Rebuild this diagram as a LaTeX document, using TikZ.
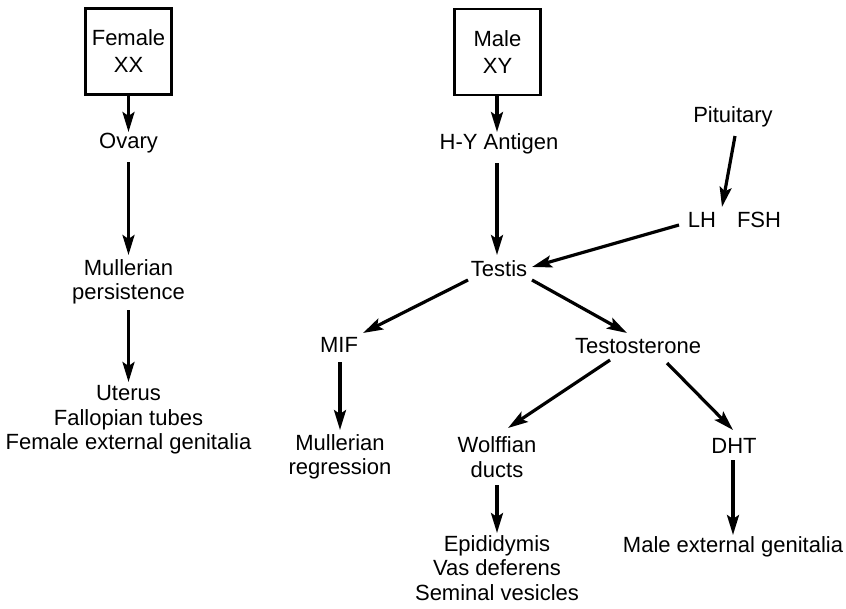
\documentclass[tikz,border=0pt]{standalone}
\usepackage{fontspec}
\setmainfont{Liberation Sans}
\usetikzlibrary{arrows.meta}
\begin{document}
\begin{tikzpicture}[x=1pt,y=-1pt,
  lbl/.style={inner sep=0pt, outer sep=0pt, align=center, font=\fontsize{22}{24.5}\selectfont},
  sexbox/.style={lbl, draw, line width=2.2pt, minimum width=86pt, minimum height=86pt, font=\fontsize{22}{27}\selectfont},
  arr/.style={line width=3.2pt, -{Stealth[length=20pt,width=12pt,inset=4pt]}}]
\useasboundingbox (0,0) rectangle (846,608);
% female branch
\node[sexbox] (female) at (128.5,51.5) {Female\\XX};
\node[lbl] (ovary) at (128.5,143) {Ovary};
\node[lbl] (mpers) at (128.5,282) {Mullerian\\persistence};
\node[lbl] (uterus) at (128.5,420) {Uterus\\Fallopian tubes\\Female external genitalia};
% male branch
\node[sexbox] (male) at (497.5,52) {Male\\XY};
\node[lbl] (hy) at (499,144) {H-Y Antigen};
\node[lbl] (testis) at (499,269) {Testis};
\node[lbl] (pit) at (733,117) {Pituitary};
\node[lbl] (lh) at (702,220) {LH};
\node[lbl] (fsh) at (759,220) {FSH};
\coordinate (gap) at (722,207);
\node[lbl] (mif) at (339,345) {MIF};
\node[lbl] (testo) at (638,346) {Testosterone};
\node[lbl] (mreg) at (340,457) {Mullerian\\regression};
\node[lbl] (wolff) at (497,457) {Wolffian\\ducts};
\node[lbl] (dht) at (734,446) {DHT};
\node[lbl] (epi) at (497,568) {Epididymis\\Vas deferens\\Seminal vesicles};
\node[lbl] (mext) at (733,547) {Male external genitalia};
% connectors
\draw[arr] (female.south) -- ([shift={(0,-11)}]ovary.center);
\draw[arr] ([shift={(0,19)}]ovary.center) -- ([shift={(0,-27)}]mpers.center);
\draw[arr] ([shift={(0,28)}]mpers.center) -- ([shift={(0,-38)}]uterus.center);
\draw[arr] ([xshift=-0.5pt]male.south) -- ([shift={(-2,-12)}]hy.center);
\draw[arr] ([shift={(-2,19)}]hy.center) -- ([shift={(-2,-14)}]testis.center);
\draw[arr] ([shift={(2,19)}]pit.center) -- (gap);
\draw[arr] ([shift={(-23,5)}]lh.center) -- ([shift={(33,-2)}]testis.center);
\draw[arr] ([shift={(-31,11)}]testis.center) -- ([shift={(24,-12)}]mif.center);
\draw[arr] ([shift={(33,11)}]testis.center) -- ([shift={(-11,-13)}]testo.center);
\draw[arr] ([shift={(1,17)}]mif.center) -- ([shift={(0,-27)}]mreg.center);
\draw[arr] ([shift={(-28,14)}]testo.center) -- ([shift={(11,-29)}]wolff.center);
\draw[arr] ([shift={(29,17)}]testo.center) -- ([shift={(-1,-16)}]dht.center);
\draw[arr] ([shift={(0,28)}]wolff.center) -- ([shift={(0,-35)}]epi.center);
\draw[arr] ([shift={(-1,14)}]dht.center) -- ([shift={(0,-12)}]mext.center);
\end{tikzpicture}
\end{document}
